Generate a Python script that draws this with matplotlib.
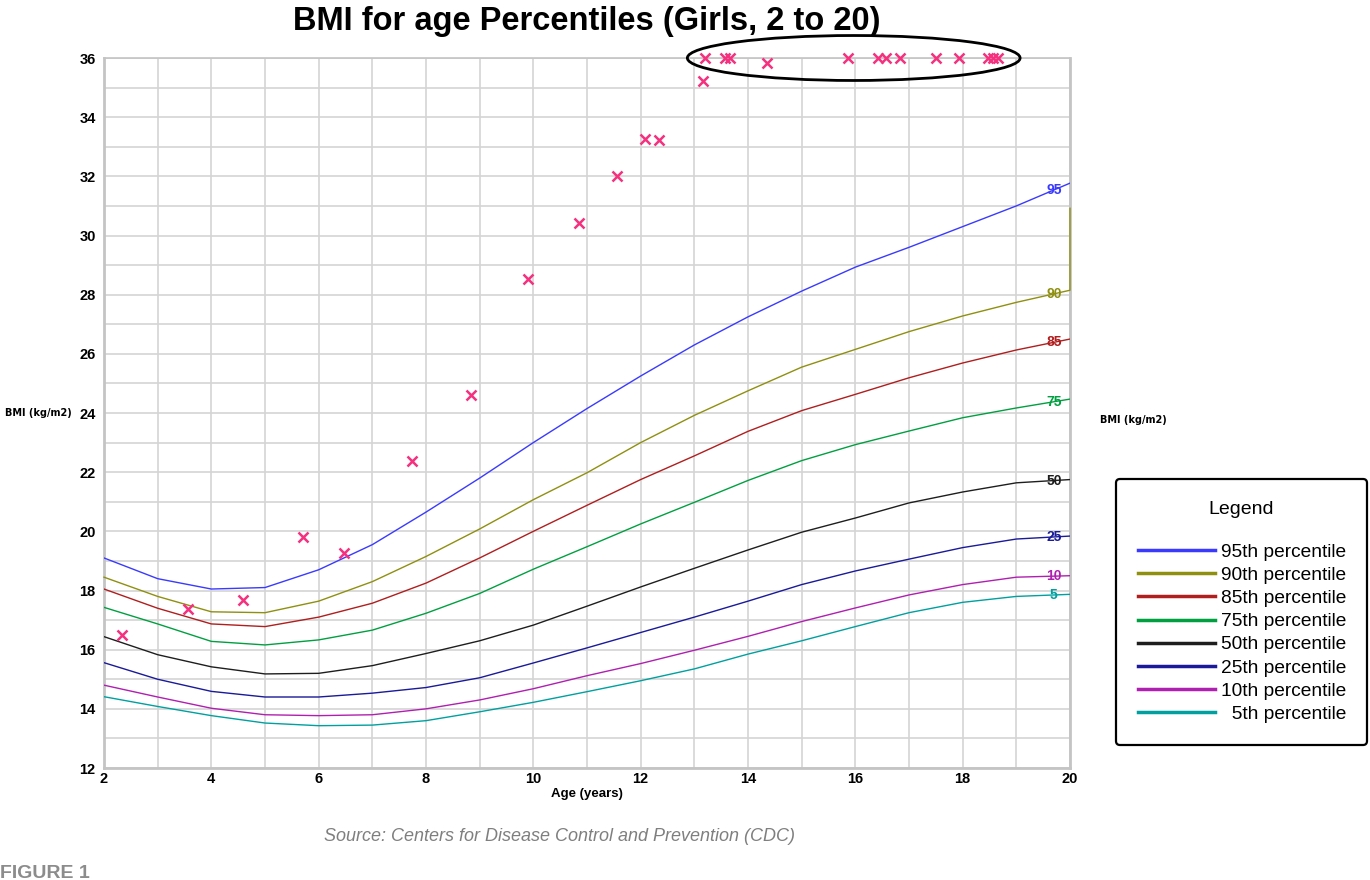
import numpy as np
import matplotlib
matplotlib.use("Agg")
import matplotlib.pyplot as plt
from matplotlib import font_manager
from matplotlib.patches import Ellipse

# --- data ---
ages = [2, 3, 4, 5, 6, 7, 8, 9, 10, 11, 12, 13, 14, 15, 16, 17, 18, 19, 20]

p95 = [19.1, 18.4, 18.05, 18.1, 18.7, 19.55, 20.65, 21.8, 23.0, 24.15, 25.25,
       26.3, 27.25, 28.12, 28.93, 29.6, 30.3, 31.0, 31.77]
p90 = [18.45, 17.8, 17.28, 17.25, 17.64, 18.3, 19.15, 20.08, 21.07, 21.98, 23.0,
       23.92, 24.75, 25.55, 26.15, 26.75, 27.28, 27.74, 28.15]
p85 = [18.05, 17.4, 16.87, 16.78, 17.1, 17.57, 18.25, 19.1, 20.0, 20.88, 21.75,
       22.55, 23.38, 24.08, 24.63, 25.19, 25.69, 26.13, 26.5]
p75 = [17.43, 16.87, 16.28, 16.16, 16.33, 16.66, 17.23, 17.9, 18.72, 19.48, 20.25,
       20.98, 21.72, 22.39, 22.93, 23.39, 23.84, 24.17, 24.47]
p50 = [16.44, 15.83, 15.42, 15.18, 15.2, 15.46, 15.87, 16.3, 16.83, 17.47, 18.12,
       18.75, 19.37, 19.97, 20.45, 20.96, 21.33, 21.64, 21.75]
p25 = [15.56, 15.0, 14.59, 14.4, 14.4, 14.53, 14.72, 15.05, 15.55, 16.06, 16.58,
       17.1, 17.64, 18.2, 18.66, 19.06, 19.45, 19.74, 19.84]
p10 = [14.8, 14.4, 14.02, 13.8, 13.77, 13.8, 14.0, 14.3, 14.68, 15.12, 15.53,
       15.98, 16.45, 16.95, 17.41, 17.85, 18.2, 18.45, 18.5]
p5 = [14.41, 14.08, 13.77, 13.52, 13.43, 13.45, 13.6, 13.9, 14.22, 14.58, 14.95,
      15.35, 15.85, 16.3, 16.78, 17.25, 17.6, 17.8, 17.87]

# odd vertical tail on the 90th line at age 20
p90_tail_age = 20
p90_tail_value = 30.92

# patient points (x markers)
pt_age = [2.34, 3.57, 4.59, 5.71, 6.47, 7.74, 8.84, 9.90, 10.85, 11.56, 12.08,
          12.34, 13.16, 13.20, 13.57, 13.66, 14.35, 15.86, 16.43, 16.57, 16.83,
          17.51, 17.94, 18.48, 18.57, 18.66]
pt_bmi = [16.5, 17.37, 17.68, 19.81, 19.27, 22.38, 24.6, 28.53, 30.42, 32.01, 33.26,
          33.23, 35.22, 36.0, 36.0, 36.0, 35.82, 36.0, 36.0, 36.0, 36.0,
          36.0, 36.0, 36.0, 36.0, 36.0]

# ellipse around the capped values
ell_center = (15.97, 36.0)
ell_w, ell_h = 6.2, 1.52

series = [p95, p90, p85, p75, p50, p25, p10, p5]
tags = ["95", "90", "85", "75", "50", "25", "10", "5"]
labels = ["95th percentile", "90th percentile", "85th percentile", "75th percentile",
          "50th percentile", "25th percentile", "10th percentile", "  5th percentile"]
colors = ["#3a3aff", "#8f8f10", "#b01e1e", "#00a040", "#1e1e1e", "#1a1a9a",
          "#b020b0", "#00a0a0"]

names = {f.name for f in font_manager.fontManager.ttflist}
narrow = "Liberation Sans Narrow" if "Liberation Sans Narrow" in names else "Liberation Sans"

fig = plt.figure(figsize=(13.7, 8.8), dpi=100)
ax = fig.add_axes([104 / 1370, 1 - 768 / 880, (1070 - 104) / 1370, (768 - 58) / 880])

ax.set_xlim(2, 20)
ax.set_ylim(12, 36)
ax.set_xticks(np.arange(2, 21, 2))
ax.set_xticks(np.arange(2, 21, 1), minor=True)
ax.set_yticks(np.arange(12, 37, 2))
ax.set_yticks(np.arange(12, 37, 1), minor=True)
ax.grid(True, which="both", color="#d4d4d4", lw=1.2)
ax.set_axisbelow(True)
ax.tick_params(which="both", length=0)
ax.tick_params(axis="y", pad=6)
ax.tick_params(axis="x", pad=3)
for lab in ax.get_xticklabels() + ax.get_yticklabels():
    lab.set_fontfamily(narrow)
    lab.set_fontweight("bold")
    lab.set_fontsize(10.5)
for side, sp in ax.spines.items():
    sp.set_color("#c4c4c4")
    sp.set_linewidth(2.0 if side in ("left", "bottom", "right") else 1.2)

for vals, tag, lab, col in zip(series, tags, labels, colors):
    xs, ys = ages, vals
    if tag == "90":
        xs = ages + [p90_tail_age]
        ys = vals + [p90_tail_value]
    ax.plot(xs, ys, color=col, lw=1.0, label=lab, zorder=3, clip_on=(tag != "90"))
    ax.text(19.7, np.interp(19.7, ages, vals), tag, color=col, fontsize=10,
            fontfamily=narrow, fontweight="bold", ha="center", va="center", zorder=2)

ax.plot(pt_age, pt_bmi, ls="none", marker="x", ms=7, mew=1.8, color="#f5317f",
        clip_on=False, zorder=4)
ax.add_patch(Ellipse(ell_center, ell_w, ell_h, fill=False, ec="black", lw=2,
                     clip_on=False, zorder=5))

ax.set_title("BMI for age Percentiles (Girls, 2 to 20)", fontsize=23.5, fontweight="bold",
             fontfamily=narrow, pad=20)
ax.set_xlabel("Age (years)", fontsize=9.5, fontweight="bold", fontfamily=narrow, labelpad=1)

fig.text(5 / 1370, 1 - 413 / 880, "BMI (kg/m2)", fontsize=7, fontweight="bold",
         ha="left", va="center")
fig.text(1100 / 1370, 1 - 420 / 880, "BMI (kg/m2)", fontsize=7, fontweight="bold",
         ha="left", va="center")

leg_top = 1 - 479 / 880
leg = ax.legend(loc="upper left", bbox_to_anchor=(1116 / 1370, leg_top - 0.1, 251 / 1370, 0.1),
                bbox_transform=fig.transFigure, mode="expand", title="Legend\n",
                fontsize=13.8, title_fontsize=14, handlelength=4.0, handletextpad=0.35,
                labelspacing=0.3, borderpad=1.15, borderaxespad=0, frameon=True,
                fancybox=True, framealpha=1)
leg.get_frame().set_edgecolor("black")
leg.get_frame().set_linewidth(1.6)
for h in leg.get_lines():
    h.set_linewidth(2.5)
for t in leg.get_texts():
    t.set_fontfamily("Liberation Sans")
leg.get_title().set_fontfamily("Liberation Sans")

fig.text(559 / 1370, 1 - 836 / 880, "Source: Centers for Disease Control and Prevention (CDC)",
         fontsize=13, style="italic", color="#7f7f7f", fontfamily="Liberation Sans",
         ha="center", va="center")
fig.text(0, 1 - 878 / 880, "FIGURE 1", fontsize=14, fontweight="bold", color="#8c8c8c",
         fontfamily=narrow, ha="left", va="baseline")

fig.savefig("out.png", dpi=100)
